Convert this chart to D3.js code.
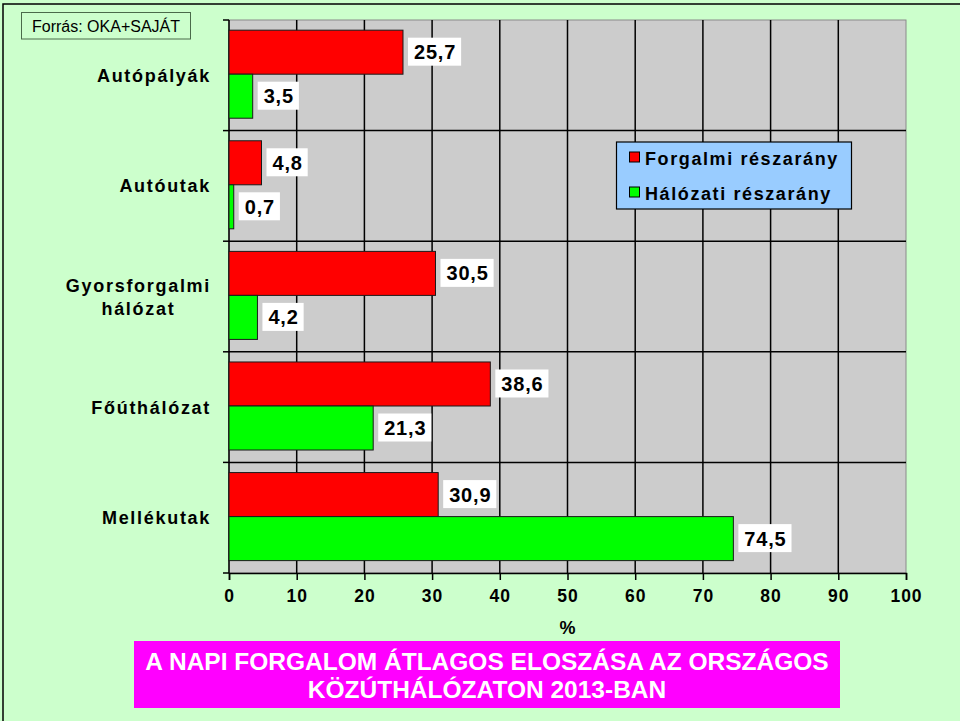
<!DOCTYPE html>
<html>
<head>
<meta charset="utf-8">
<script src="https://cdn.jsdelivr.net/npm/d3@7"></script>
<style>
  html, body { margin: 0; padding: 0; background: #ccffcc; overflow: hidden; }
  svg { display: block; font-family: "Liberation Sans", Arial, sans-serif; }
</style>
</head>
<body>
<svg id="chart" width="960" height="721"></svg>
<script>
// ---- data ----
const categories = ["Autópályák", "Autóutak", "Gyorsforgalmi hálózat", "Főúthálózat", "Mellékutak"];
const categoryLines = [["Autópályák"], ["Autóutak"], ["Gyorsforgalmi", "hálózat"], ["Főúthálózat"], ["Mellékutak"]];
const seriesNames = ["Forgalmi részarány", "Hálózati részarány"];
const forgalmi = [25.7, 4.8, 30.5, 38.6, 30.9];
const halozati = [3.5, 0.7, 4.2, 21.3, 74.5];
const xTicks = [0, 10, 20, 30, 40, 50, 60, 70, 80, 90, 100];
const xTitle = "%";
const sourceText = "Forrás: OKA+SAJÁT";
const titleLines = ["A NAPI FORGALOM ÁTLAGOS ELOSZÁSA AZ ORSZÁGOS", "KÖZÚTHÁLÓZATON 2013-BAN"];

// ---- layout ----
const W = 960, H = 721;
const plot = { left: 229, right: 906, top: 20, bottom: 573 };
const colors = ["#ff0000", "#00ff00"];
const svg = d3.select("#chart");

// background + outer frame
svg.append("rect").attr("x", 0).attr("y", 0).attr("width", W).attr("height", H).attr("fill", "#ccffcc");
svg.append("rect").attr("x", 3).attr("y", 4).attr("width", W + 10).attr("height", H + 10)
  .attr("fill", "none").attr("stroke", "#000").attr("stroke-width", 1.5);

// source box
svg.append("rect").attr("x", 21.5).attr("y", 12.5).attr("width", 169).attr("height", 26.5)
  .attr("fill", "#ccffcc").attr("stroke", "#4a6a4a").attr("stroke-width", 1);
svg.append("text").attr("x", 32).attr("y", 32).attr("font-size", 16).attr("fill", "#000").text(sourceText);

// scales
const x = d3.scaleLinear().domain([0, 100]).range([plot.left, plot.right]);
const y = d3.scaleBand().domain(categories).range([plot.top, plot.bottom]).paddingInner(0).paddingOuter(0);
const bw = y.bandwidth();
const ySub = d3.scaleBand().domain(seriesNames).range([bw * 0.092, bw * 0.888]).padding(0);

// plot area
svg.append("rect").attr("x", plot.left).attr("y", plot.top)
  .attr("width", plot.right - plot.left).attr("height", plot.bottom - plot.top)
  .attr("fill", "#cccccc").attr("stroke", "#8a8a8a").attr("stroke-width", 1);

// vertical gridlines
svg.append("g").selectAll("line").data(xTicks.filter(d => d > 0 && d < 100)).join("line")
  .attr("x1", d => x(d)).attr("x2", d => x(d))
  .attr("y1", plot.top).attr("y2", plot.bottom)
  .attr("stroke", "#000").attr("stroke-width", 1.5);

// horizontal category separators
const bounds = categories.map(c => y(c)).concat([plot.bottom]);
svg.append("g").selectAll("line").data(bounds.slice(1, -1)).join("line")
  .attr("x1", plot.left).attr("x2", plot.right)
  .attr("y1", d => d).attr("y2", d => d)
  .attr("stroke", "#000").attr("stroke-width", 1.5);

// y axis line + ticks
svg.append("line").attr("x1", plot.left).attr("x2", plot.left).attr("y1", plot.top).attr("y2", plot.bottom)
  .attr("stroke", "#000").attr("stroke-width", 1.5);
svg.append("g").selectAll("line").data(bounds).join("line")
  .attr("x1", plot.left - 6).attr("x2", plot.left)
  .attr("y1", d => d).attr("y2", d => d)
  .attr("stroke", "#000").attr("stroke-width", 1.5);

// x axis
const xAxis = d3.axisBottom(x).tickValues(xTicks).tickSize(7).tickPadding(9).tickFormat(d3.format("d"));
const gx = svg.append("g").attr("transform", `translate(0,${plot.bottom})`).call(xAxis);
gx.select(".domain").attr("stroke", "#000").attr("stroke-width", 1.5);
gx.selectAll(".tick line").attr("stroke", "#000").attr("stroke-width", 1.5);
gx.selectAll(".tick text").attr("font-family", "Liberation Sans, Arial, sans-serif")
  .attr("font-size", 17.5).attr("font-weight", "bold").attr("fill", "#000")
  .style("letter-spacing", "1px").attr("dy", "0.72em");

svg.append("text").attr("x", (plot.left + plot.right) / 2).attr("y", 634)
  .attr("text-anchor", "middle").attr("font-size", 18).attr("font-weight", "bold").text(xTitle);

// bars
const rows = [];
categories.forEach((c, i) => {
  rows.push({ cat: c, s: seriesNames[0], v: forgalmi[i], col: colors[0] });
  rows.push({ cat: c, s: seriesNames[1], v: halozati[i], col: colors[1] });
});
svg.append("g").selectAll("rect").data(rows).join("rect")
  .attr("x", x(0)).attr("y", d => y(d.cat) + ySub(d.s))
  .attr("width", d => x(d.v) - x(0)).attr("height", ySub.bandwidth())
  .attr("fill", d => d.col).attr("stroke", "#1a1a1a").attr("stroke-width", 1);

// value labels
const fmt = v => d3.format(".1f")(v).replace(".", ",");
const lg = svg.append("g");
rows.forEach(d => {
  const cy = y(d.cat) + ySub(d.s) + ySub.bandwidth() / 2;
  const bx = x(d.v) + 5;
  const g = lg.append("g");
  const box = g.append("rect").attr("fill", "#fff");
  const t = g.append("text").attr("x", bx + 6).attr("y", cy + 7)
    .attr("font-size", 20).attr("font-weight", "bold").attr("fill", "#000")
    .style("letter-spacing", "0.8px").text(fmt(d.v));
  const tw = t.node().getComputedTextLength();
  box.attr("x", bx).attr("y", cy - 14.5).attr("width", tw + 11).attr("height", 28);
});

// category labels
categoryLines.forEach((lines, i) => {
  const cy = y(categories[i]) + bw / 2;
  const lh = 23;
  const t = svg.append("text").attr("font-size", 18).attr("font-weight", "bold").attr("fill", "#000")
    .style("letter-spacing", "1.7px").attr("text-anchor", "middle");
  const spans = lines.map((ln, j) => t.append("tspan").attr("x", 0)
    .attr("y", cy + 6.5 + (j - (lines.length - 1) / 2) * lh).text(ln));
  const maxW = d3.max(spans, s => s.node().getComputedTextLength());
  spans.forEach(s => s.attr("x", 211 - maxW / 2));
});

// legend
const leg = svg.append("g");
leg.append("rect").attr("x", 616.5).attr("y", 142).attr("width", 235).attr("height", 67)
  .attr("fill", "#99ccff").attr("stroke", "#000").attr("stroke-width", 1.2);
seriesNames.forEach((s, i) => {
  const yy = 152 + i * 35;
  leg.append("rect").attr("x", 629.5).attr("y", yy).attr("width", 10).attr("height", 10)
    .attr("fill", colors[i]).attr("stroke", "#000").attr("stroke-width", 1);
  leg.append("text").attr("x", 645).attr("y", yy + 13).attr("font-size", 18).attr("font-weight", "bold")
    .style("letter-spacing", "1.6px").attr("fill", "#000").text(s);
});

// title box
svg.append("rect").attr("x", 134).attr("y", 641).attr("width", 706).attr("height", 67).attr("fill", "#ff00ff");
titleLines.forEach((ln, i) => {
  svg.append("text").attr("x", 487).attr("y", 670 + i * 28).attr("text-anchor", "middle")
    .attr("font-size", 24.5).attr("font-weight", "bold").attr("fill", "#fff").text(ln);
});
</script>
</body>
</html>
